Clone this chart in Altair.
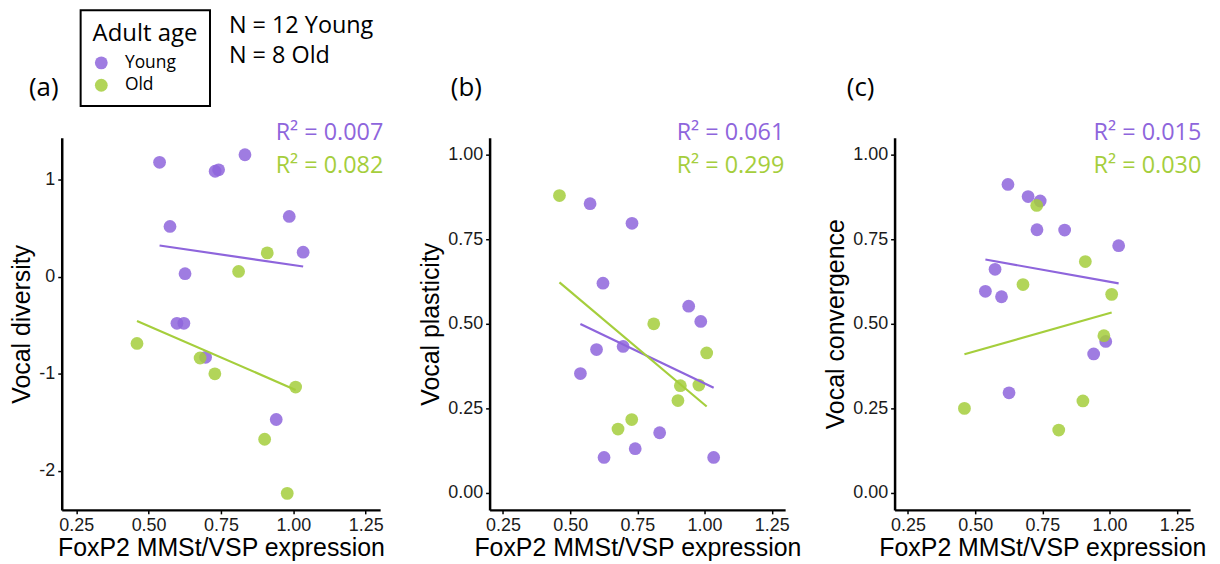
import altair as alt
import pandas as pd

# ---------------- data ----------------
AGE_GROUPS = ["Young", "Old"]
COLORS = ["#8E65DC", "#A5CE3C"]

# FoxP2 MMSt/VSP expression (same birds in every panel)
young_x = [0.538, 0.574, 0.598, 0.622, 0.626, 0.697, 0.730, 0.742, 0.833, 0.941, 0.986, 1.034]
old_x = [0.460, 0.678, 0.729, 0.811, 0.901, 0.910, 0.979, 1.008]

# (a) Vocal diversity
young_div = [1.177, 0.517, -0.48, -0.48, 0.031, -0.83, 1.085, 1.10, 1.255, -1.47, 0.62, 0.252]
old_div = [-0.687, -0.837, -1.0, 0.054, -1.673, 0.245, -2.23, -1.136]
# (b) Vocal plasticity
young_pla = [0.353, 0.855, 0.424, 0.620, 0.105, 0.433, 0.797, 0.131, 0.178, 0.552, 0.507, 0.105]
old_pla = [0.879, 0.189, 0.217, 0.50, 0.273, 0.317, 0.319, 0.414]
# (c) Vocal convergence
young_con = [0.596, 0.661, 0.580, 0.912, 0.296, 0.876, 0.778, 0.863, 0.777, 0.411, 0.448, 0.731]
old_con = [0.250, 0.616, 0.850, 0.186, 0.272, 0.684, 0.465, 0.587]

X_TICKS = [0.25, 0.50, 0.75, 1.00, 1.25]
X_TITLE = "FoxP2 MMSt/VSP expression"
Y_TITLES = ["Vocal diversity", "Vocal plasticity", "Vocal convergence"]
DIV_TICKS = [-2, -1, 0, 1]
PROP_TICKS = [0.00, 0.25, 0.50, 0.75, 1.00]
PANEL_TAGS = ["(a)", "(b)", "(c)"]
R2_YOUNG = ["R\u00b2 = 0.007", "R\u00b2 = 0.061", "R\u00b2 = 0.015"]
R2_OLD = ["R\u00b2 =  0.082", "R\u00b2 =  0.299", "R\u00b2 =  0.030"]
N_LINES = ["N = 12 Young", "N = 8 Old"]

ANN_FONT = "Open Sans"
AX_FONT = "Liberation Sans"
PLOT_H = 374

LEGEND = alt.Legend(
    title="Adult age", orient="none", legendX=19, legendY=-128, direction="vertical",
    titleFont=ANN_FONT, titleFontSize=24, titleFontWeight="normal", titleColor="black",
    titlePadding=8, labelFont=ANN_FONT, labelFontSize=17.5, labelColor="black",
    labelOffset=15, symbolType="circle", symbolSize=165, symbolOpacity=0.85,
    symbolStrokeWidth=0, padding=12, strokeColor="black", rowPadding=3.5,
)


def text_layer(txt, x, y, color, size, align="left"):
    return alt.Chart(pd.DataFrame({"t": [txt]})).mark_text(
        font=ANN_FONT, fontSize=size, color=color, align=align, baseline="alphabetic"
    ).encode(x=alt.value(x), y=alt.value(y), text="t:N")


def panel(yy, yo, ydom, yticks, ylabel_expr, ytitle, width, idx, tag_x, r2_x, extra=None):
    df = pd.DataFrame({
        "x": young_x + old_x,
        "y": yy + yo,
        "age": ["Young"] * len(young_x) + ["Old"] * len(old_x),
    })
    xenc = alt.X("x:Q", title=X_TITLE,
                 scale=alt.Scale(domain=[0.2, 1.3], nice=False, zero=False),
                 axis=alt.Axis(values=X_TICKS, format=".2f", labelFlush=False))
    yenc = alt.Y("y:Q", title=ytitle,
                 scale=alt.Scale(domain=ydom, nice=False, zero=False),
                 axis=alt.Axis(values=yticks, labelExpr=ylabel_expr))
    base = alt.Chart(df)
    pts = base.mark_circle(size=165, opacity=0.85).encode(
        x=xenc, y=yenc,
        color=alt.Color("age:N", scale=alt.Scale(domain=AGE_GROUPS, range=COLORS), legend=LEGEND),
    )
    lines = [
        base.transform_filter(alt.datum.age == g)
        .transform_regression("x", "y")
        .mark_line(strokeWidth=2.2, color=c)
        .encode(x=xenc, y=yenc)
        for g, c in zip(AGE_GROUPS, COLORS)
    ]
    texts = [
        text_layer(PANEL_TAGS[idx], tag_x, -42, "black", 26),
        text_layer(R2_YOUNG[idx], r2_x, 2, COLORS[0], 23.5),
        text_layer(R2_OLD[idx], r2_x, 35, COLORS[1], 23.5),
    ]
    if extra:
        texts += extra
    return alt.layer(pts, *lines, *texts).properties(width=width, height=PLOT_H)


n_texts = [
    text_layer(N_LINES[0], 168, -105, "black", 23.5),
    text_layer(N_LINES[1], 168, -75, "black", 23.5),
]

INT_LABEL = "'' + datum.value"
DEC_LABEL = "format(datum.value, '.2f')"

pa = panel(young_div, old_div, [-2.4, 1.43], DIV_TICKS, INT_LABEL, Y_TITLES[0], 320, 0, -33, 215, n_texts)
pb = panel(young_pla, old_pla, [-0.05, 1.05], PROP_TICKS, DEC_LABEL, Y_TITLES[1], 297, 1, -39, 188)
pc = panel(young_con, old_con, [-0.05, 1.05], PROP_TICKS, DEC_LABEL, Y_TITLES[2], 297, 2, -48, 200)

chart = (
    alt.hconcat(pa, pb, pc, spacing=110, bounds="flush")
    .properties(padding={"left": 1, "top": 0, "right": 4, "bottom": 0})
    .configure_view(stroke=None)
    .configure_axis(
        domainColor="black", domainWidth=2.5, tickColor="black", tickWidth=1.5, tickSize=4,
        labelFont=AX_FONT, labelFontSize=18, labelColor="#1a1a1a", labelPadding=3,
        titleFont=AX_FONT, titleFontSize=25, titleFontWeight="normal", titleColor="black",
        grid=False,
    )
    .configure_axisX(titlePadding=1)
    .configure_axisY(titlePadding=4)
    .configure_legend(strokeWidth=2)
)

chart.save("out.html", embed_options={"renderer": "svg", "actions": False})
